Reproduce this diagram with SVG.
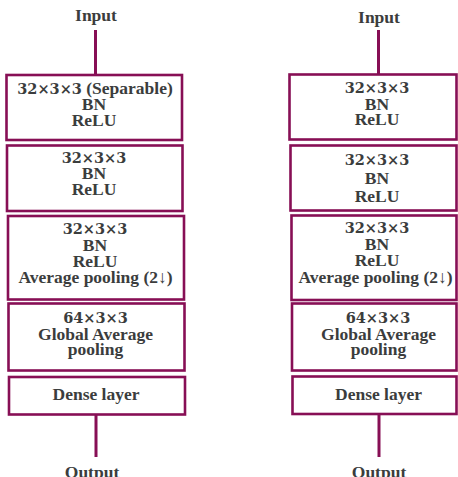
<svg xmlns="http://www.w3.org/2000/svg" width="458" height="477" viewBox="0 0 458 477">
  <style>
    .box { fill: #ffffff; stroke: #870f55; stroke-width: 2.6; }
    .wire { stroke: #870f55; stroke-width: 3; fill: none; }
    text { font-family: "Liberation Serif", "Times New Roman", serif; font-weight: bold; font-size: 17.5px; fill: #3b3d3d; text-anchor: middle; }
    .num { font-family: "DejaVu Serif", "Liberation Serif", serif; font-size: 14.5px; }
  </style>
  <rect width="458" height="477" fill="#ffffff"/>

  <!-- connectors -->
  <g id="connectors">
    <line class="wire" x1="95.5" y1="30" x2="95.5" y2="75"/>
    <line class="wire" x1="96" y1="414" x2="96" y2="457"/>
    <line class="wire" x1="378.5" y1="30" x2="378.5" y2="74"/>
    <line class="wire" x1="379" y1="414" x2="379" y2="457"/>
  </g>

  <!-- left network -->
  <g id="left-input"><text x="96" y="21">Input</text></g>
  <g id="left-conv1">
    <rect class="box" x="6.5" y="75" width="175.5" height="65"/>
    <text x="95" y="94"><tspan class="num">32×3×3</tspan> (Separable)</text>
    <text x="94" y="110">BN</text>
    <text x="94" y="125.5">ReLU</text>
  </g>
  <g id="left-conv2">
    <rect class="box" x="7" y="145.5" width="175.5" height="65.5"/>
    <text class="num" x="94" y="162.5">32×3×3</text>
    <text x="94" y="179">BN</text>
    <text x="94" y="195">ReLU</text>
  </g>
  <g id="left-conv3">
    <rect class="box" x="8" y="216" width="176" height="83.5"/>
    <text class="num" x="95" y="234">32×3×3</text>
    <text x="95" y="251">BN</text>
    <text x="95" y="266.5">ReLU</text>
    <text x="95.5" y="282.5">Average pooling (2↓)</text>
  </g>
  <g id="left-conv4">
    <rect class="box" x="8.5" y="303.5" width="176" height="67"/>
    <text class="num" x="95.5" y="323">64×3×3</text>
    <text x="95.5" y="340">Global Average</text>
    <text x="95.5" y="355">pooling</text>
  </g>
  <g id="left-dense">
    <rect class="box" x="9" y="377" width="176" height="37.5"/>
    <text x="96" y="399.5">Dense layer</text>
  </g>
  <g id="left-output"><text x="92" y="478">Output</text></g>

  <!-- right network -->
  <g id="right-input"><text x="379" y="22.5">Input</text></g>
  <g id="right-conv1">
    <rect class="box" x="289.5" y="74.5" width="167" height="65"/>
    <text class="num" x="377" y="92.5">32×3×3</text>
    <text x="377" y="110">BN</text>
    <text x="377" y="125">ReLU</text>
  </g>
  <g id="right-conv2">
    <rect class="box" x="290.5" y="145.5" width="166" height="65"/>
    <text class="num" x="377" y="165">32×3×3</text>
    <text x="377" y="184">BN</text>
    <text x="377" y="202">ReLU</text>
  </g>
  <g id="right-conv3">
    <rect class="box" x="291.5" y="215.5" width="165" height="84.5"/>
    <text class="num" x="377" y="233">32×3×3</text>
    <text x="377" y="250">BN</text>
    <text x="377" y="266">ReLU</text>
    <text x="375.5" y="282.5">Average pooling (2↓)</text>
  </g>
  <g id="right-conv4">
    <rect class="box" x="292" y="303.5" width="164.5" height="67"/>
    <text class="num" x="378" y="323">64×3×3</text>
    <text x="378.5" y="340">Global Average</text>
    <text x="378.5" y="355">pooling</text>
  </g>
  <g id="right-dense">
    <rect class="box" x="292.5" y="376.5" width="164" height="37.5"/>
    <text x="378.5" y="399.5">Dense layer</text>
  </g>
  <g id="right-output"><text x="379" y="478">Output</text></g>
</svg>
